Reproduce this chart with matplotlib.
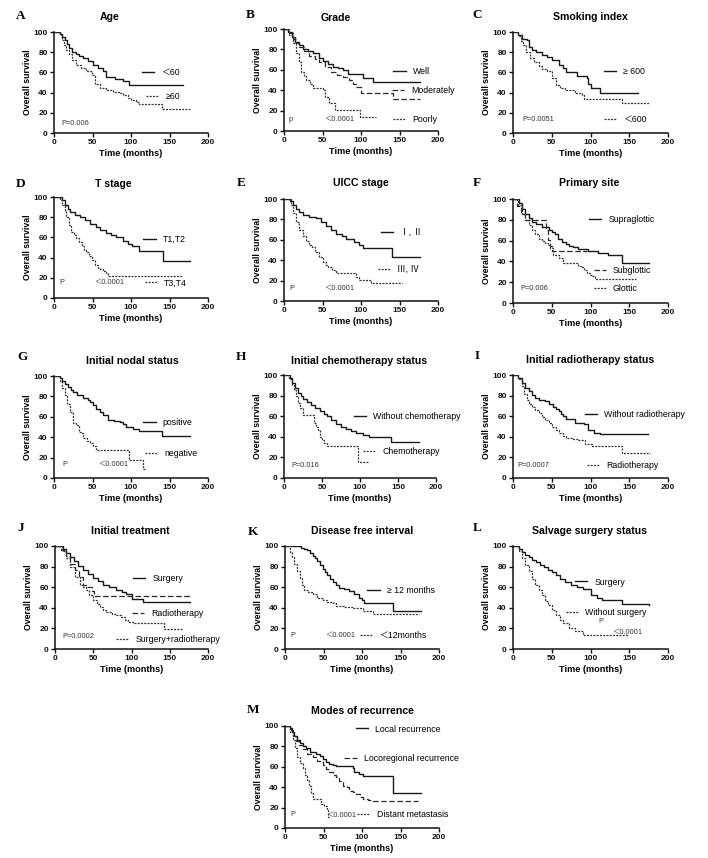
import matplotlib
matplotlib.use("Agg")
import matplotlib.pyplot as plt

plt.rcParams['font.family'] = ['Liberation Sans', 'Noto Sans CJK SC', 'DejaVu Sans']

# ---------------- data (months / % survival) ----------------
a_lt60_t = [0, 8, 11, 14, 17, 20, 23, 28, 33, 38, 44, 51, 57, 64, 68, 79, 90, 98, 167]
a_lt60_s = [100, 98, 95, 92, 88, 84, 80, 78, 76, 74, 71, 67, 64, 61, 55, 53, 51, 48, 48]
a_ge60_t = [0, 8, 10, 13, 16, 20, 24, 29, 35, 42, 49, 53, 60, 68, 77, 84, 90, 96, 100, 106, 111, 140, 177]
a_ge60_s = [100, 97, 92, 87, 82, 78, 72, 67, 64, 61, 57, 49, 45, 43, 41, 40, 38, 35, 33, 31, 29, 24, 24]

b_well_t = [0, 5, 10, 14, 19, 25, 31, 38, 45, 51, 57, 64, 70, 77, 83, 103, 115, 176]
b_well_s = [100, 97, 92, 87, 84, 80, 78, 76, 72, 69, 66, 63, 62, 60, 56, 52, 48, 48]
b_mod_t = [0, 7, 12, 16, 20, 26, 33, 40, 46, 53, 61, 69, 77, 84, 90, 94, 100, 141, 177]
b_mod_s = [100, 96, 90, 86, 82, 78, 74, 71, 68, 63, 58, 55, 53, 50, 46, 43, 37, 31, 31]
b_poor_t = [0, 7, 12, 16, 19, 22, 26, 29, 34, 38, 51, 53, 58, 66, 99, 120]
b_poor_s = [100, 94, 86, 76, 68, 58, 54, 50, 46, 42, 40, 33, 27, 21, 14, 14]

c_ge600_t = [0, 7, 11, 18, 20, 24, 30, 37, 44, 50, 59, 65, 69, 82, 95, 97, 101, 112, 161]
c_ge600_s = [100, 97, 93, 92, 85, 82, 80, 77, 75, 72, 67, 64, 60, 56, 54, 49, 45, 40, 40]
c_lt600_t = [0, 7, 10, 13, 17, 22, 27, 33, 38, 44, 50, 56, 61, 67, 80, 89, 92, 140, 177]
c_lt600_s = [100, 96, 91, 87, 80, 74, 70, 66, 63, 61, 54, 48, 45, 43, 40, 38, 34, 30, 30]

d_t12_t = [0, 10, 14, 18, 21, 27, 34, 40, 47, 54, 60, 68, 74, 81, 90, 96, 101, 111, 141, 177]
d_t12_s = [100, 97, 92, 88, 85, 82, 80, 77, 73, 70, 67, 64, 62, 60, 56, 53, 51, 47, 37, 37]
d_t34_t = [0, 8, 11, 14, 16, 19, 22, 26, 29, 33, 36, 39, 42, 46, 49, 53, 57, 60, 64, 68, 70, 167]
d_t34_s = [100, 97, 92, 86, 80, 72, 65, 62, 59, 55, 51, 48, 46, 42, 38, 33, 30, 29, 27, 25, 22, 22]

e_12_t = [0, 8, 12, 16, 20, 25, 33, 42, 48, 55, 61, 68, 75, 81, 91, 98, 102, 140, 177]
e_12_s = [100, 98, 94, 90, 87, 84, 82, 81, 77, 74, 70, 66, 64, 61, 58, 55, 52, 43, 43]
e_34_t = [0, 9, 12, 16, 20, 25, 29, 33, 37, 40, 45, 50, 54, 57, 62, 68, 94, 98, 113, 153]
e_34_s = [100, 94, 86, 77, 70, 64, 59, 55, 53, 48, 43, 38, 35, 33, 30, 27, 24, 21, 18, 18]

f_supra_t = [0, 8, 12, 16, 20, 24, 30, 38, 46, 50, 54, 58, 63, 68, 72, 78, 84, 97, 110, 123, 141, 176]
f_supra_s = [100, 96, 90, 86, 82, 78, 76, 73, 70, 68, 66, 62, 59, 57, 55, 54, 52, 50, 48, 46, 38, 38]
f_sub_t = [0, 5, 10, 16, 43, 45, 48, 50, 95]
f_sub_s = [100, 93, 86, 80, 70, 61, 55, 50, 50]
f_glot_t = [0, 7, 12, 16, 20, 24, 28, 33, 37, 41, 45, 48, 52, 59, 65, 84, 88, 91, 95, 99, 102, 106, 159]
f_glot_s = [100, 94, 86, 80, 75, 70, 66, 62, 60, 58, 56, 53, 46, 43, 38, 36, 35, 32, 29, 27, 26, 23, 23]

g_pos_t = [0, 8, 11, 14, 18, 22, 25, 30, 38, 44, 47, 51, 55, 60, 64, 70, 78, 86, 90, 94, 103, 111, 140, 177]
g_pos_s = [100, 98, 95, 92, 89, 86, 84, 81, 78, 76, 75, 72, 68, 65, 62, 57, 56, 55, 53, 50, 48, 46, 41, 41]
g_neg_t = [0, 8, 11, 14, 17, 21, 25, 28, 32, 35, 38, 43, 47, 51, 55, 98, 115, 120]
g_neg_s = [100, 94, 88, 81, 73, 65, 54, 52, 45, 44, 39, 36, 34, 31, 27, 18, 9, 9]

h_wo_t = [0, 8, 11, 14, 18, 22, 25, 30, 36, 41, 47, 52, 56, 62, 69, 75, 82, 88, 95, 104, 112, 141, 177]
h_wo_s = [100, 97, 92, 87, 83, 80, 77, 74, 71, 68, 65, 62, 60, 56, 52, 50, 48, 46, 44, 42, 40, 35, 35]
h_chemo_t = [0, 7, 10, 13, 16, 18, 21, 25, 39, 42, 45, 47, 50, 53, 56, 98, 110]
h_chemo_s = [100, 96, 90, 85, 80, 73, 68, 61, 53, 50, 47, 40, 37, 34, 31, 16, 16]

i_wo_t = [0, 7, 11, 16, 20, 24, 28, 33, 41, 46, 52, 56, 59, 62, 65, 69, 80, 91, 97, 105, 112, 174]
i_wo_s = [100, 97, 92, 87, 84, 81, 78, 76, 75, 72, 69, 67, 65, 62, 60, 57, 53, 52, 47, 44, 43, 43]
i_radio_t = [0, 7, 11, 14, 18, 21, 24, 28, 33, 37, 41, 46, 50, 55, 59, 64, 69, 76, 84, 93, 102, 141, 177]
i_radio_s = [100, 96, 89, 82, 76, 72, 69, 66, 63, 59, 56, 53, 50, 47, 44, 41, 39, 38, 37, 33, 31, 24, 24]

j_surg_t = [0, 10, 15, 20, 25, 30, 37, 43, 50, 56, 63, 70, 80, 88, 93, 100, 115, 176]
j_surg_s = [100, 97, 93, 89, 85, 81, 77, 73, 69, 66, 62, 60, 57, 55, 53, 49, 46, 46]
j_radio_t = [0, 8, 14, 20, 26, 32, 37, 42, 48, 51, 178]
j_radio_s = [100, 96, 90, 83, 77, 70, 62, 60, 56, 51, 51]
j_both_t = [0, 9, 14, 20, 26, 33, 37, 41, 45, 50, 55, 59, 63, 67, 74, 80, 86, 91, 96, 102, 142, 167]
j_both_s = [100, 95, 88, 80, 70, 62, 60, 57, 52, 48, 44, 41, 38, 36, 34, 33, 31, 28, 26, 25, 19, 19]

k_ge12_t = [0, 21, 25, 29, 33, 36, 39, 42, 46, 49, 52, 55, 58, 62, 66, 70, 76, 83, 90, 96, 100, 103, 140, 176]
k_ge12_s = [100, 98, 97, 96, 93, 90, 88, 85, 82, 78, 75, 72, 68, 65, 62, 59, 58, 56, 53, 50, 48, 45, 37, 37]
k_lt12_t = [0, 6, 9, 12, 15, 19, 22, 25, 30, 36, 42, 49, 55, 62, 66, 76, 88, 101, 114, 174]
k_lt12_s = [100, 94, 89, 83, 76, 69, 62, 57, 55, 53, 50, 48, 46, 45, 42, 41, 40, 37, 34, 34]

l_surg_t = [0, 8, 12, 16, 20, 25, 30, 35, 40, 45, 50, 55, 60, 67, 75, 82, 90, 100, 108, 115, 140, 176]
l_surg_s = [100, 97, 94, 91, 89, 86, 84, 82, 80, 77, 75, 72, 68, 65, 62, 60, 58, 52, 50, 48, 44, 43]
l_wo_t = [0, 8, 12, 16, 20, 24, 28, 33, 37, 41, 45, 50, 55, 60, 65, 72, 80, 90, 148]
l_wo_s = [100, 95, 88, 82, 76, 68, 62, 57, 52, 47, 43, 38, 33, 28, 25, 20, 17, 14, 14]

m_local_t = [0, 6, 9, 12, 16, 19, 23, 27, 33, 40, 45, 49, 53, 57, 62, 66, 88, 90, 96, 101, 140, 176]
m_local_s = [100, 98, 94, 90, 86, 83, 80, 78, 75, 73, 71, 68, 65, 63, 62, 61, 59, 55, 53, 51, 34, 34]
m_loco_t = [0, 8, 11, 14, 18, 23, 29, 36, 42, 49, 53, 57, 62, 66, 70, 75, 80, 83, 88, 92, 97, 101, 108, 114, 173]
m_loco_s = [100, 96, 90, 85, 81, 77, 73, 70, 66, 62, 58, 55, 52, 50, 46, 41, 40, 36, 35, 33, 30, 28, 27, 26, 26]
m_dist_t = [0, 6, 10, 13, 16, 19, 23, 26, 29, 31, 34, 36, 47, 50, 54, 56, 58]
m_dist_s = [100, 94, 86, 78, 70, 64, 59, 52, 47, 41, 34, 28, 24, 22, 18, 11, 11]

x_ticks = [0, 50, 100, 150, 200]
y_ticks = [0, 20, 40, 60, 80, 100]

# ---------------- styling ----------------
W, H = 708, 858
fig = plt.figure(figsize=(W / 100, H / 100), dpi=100)

STY = {
    'solid': dict(ls='-', color='#1a1a1a', lw=1.0),
    'dash': dict(ls=(0, (4.5, 2.0)), color='#2a2a2a', lw=0.9),
    'dot': dict(ls=(0, (1.6, 1.0)), color='#333333', lw=0.9),
}


def px_rect(x0, x200, y100, y0):
    return [x0 / W, 1 - y0 / H, (x200 - x0) / W, (y0 - y100) / H]


panels = [
    dict(letter='A', lxy=(21, 16), title='Age', txy=(110, 17), rect=(54, 208, 32, 133),
         curves=[(a_lt60_t, a_lt60_s, 'solid', '＜60', (0.57, 0.60)),
                 (a_ge60_t, a_ge60_s, 'dot', '≥60', (0.60, 0.36))],
         texts=[('P=0.006', 0.045, 0.09)]),
    dict(letter='B', lxy=(250, 15), title='Grade', txy=(336, 18), rect=(284, 438, 29, 131),
         curves=[(b_well_t, b_well_s, 'solid', 'Well', (0.71, 0.58)),
                 (b_mod_t, b_mod_s, 'dash', 'Moderately', (0.70, 0.40)),
                 (b_poor_t, b_poor_s, 'dot', 'Poorly', (0.71, 0.11))],
         texts=[('p', 0.03, 0.11), ('＜0.0001', 0.26, 0.11)]),
    dict(letter='C', lxy=(477, 15), title='Smoking index', txy=(590, 17), rect=(513, 668, 32, 133),
         curves=[(c_ge600_t, c_ge600_s, 'solid', '≥ 600', (0.585, 0.61)),
                 (c_lt600_t, c_lt600_s, 'dot', '＜600', (0.585, 0.13))],
         texts=[('P=0.0051', 0.06, 0.13)]),
    dict(letter='D', lxy=(21, 184), title='T stage', txy=(113, 184), rect=(54, 208, 197, 298),
         curves=[(d_t12_t, d_t12_s, 'solid', 'T1,T2', (0.58, 0.58)),
                 (d_t34_t, d_t34_s, 'dot', 'T3,T4', (0.59, 0.15))],
         texts=[('P', 0.035, 0.15), ('＜0.0001', 0.26, 0.15)]),
    dict(letter='E', lxy=(241, 183), title='UICC stage', txy=(361, 183), rect=(284, 438, 199, 301),
         curves=[(e_12_t, e_12_s, 'solid', 'Ⅰ, Ⅱ', (0.63, 0.67)),
                 (e_34_t, e_34_s, 'dot', 'Ⅲ, Ⅳ', (0.61, 0.31))],
         texts=[('P', 0.035, 0.12), ('＜0.0001', 0.26, 0.12)]),
    dict(letter='F', lxy=(477, 183), title='Primary site', txy=(589, 183), rect=(513, 668, 199, 303),
         curves=[(f_supra_t, f_supra_s, 'solid', 'Supraglottic', (0.49, 0.80)),
                 (f_sub_t, f_sub_s, 'dash', 'Subglottic', (0.52, 0.31)),
                 (f_glot_t, f_glot_s, 'dot', 'Glottic', (0.52, 0.14))],
         texts=[('P=0.006', 0.05, 0.14)]),
    dict(letter='G', lxy=(22, 357), title='Initial nodal status', txy=(132, 361), rect=(54, 208, 376, 478),
         curves=[(g_pos_t, g_pos_s, 'solid', 'positive', (0.58, 0.54)),
                 (g_neg_t, g_neg_s, 'dot', 'negative', (0.59, 0.24))],
         texts=[('P', 0.055, 0.13), ('＜0.0001', 0.29, 0.13)]),
    dict(letter='H', lxy=(241, 357), title='Initial chemotherapy status', txy=(359, 361), rect=(284, 436, 375, 478),
         curves=[(h_wo_t, h_wo_s, 'solid', 'Without chemotherapy', (0.46, 0.60)),
                 (h_chemo_t, h_chemo_s, 'dot', 'Chemotherapy', (0.52, 0.26))],
         texts=[('P=0.016', 0.05, 0.12)]),
    dict(letter='I', lxy=(477, 356), title='Initial radiotherapy status', txy=(590, 360), rect=(513, 668, 375, 478),
         curves=[(i_wo_t, i_wo_s, 'solid', 'Without radiotherapy', (0.465, 0.62)),
                 (i_radio_t, i_radio_s, 'dot', 'Radiotherapy', (0.48, 0.12))],
         texts=[('P=0.0007', 0.03, 0.12)]),
    dict(letter='J', lxy=(21, 528), title='Initial treatment', txy=(130, 531), rect=(55, 208, 546, 649),
         curves=[(j_surg_t, j_surg_s, 'solid', 'Surgery', (0.51, 0.68)),
                 (j_radio_t, j_radio_s, 'dash', 'Radiotherapy', (0.50, 0.34)),
                 (j_both_t, j_both_s, 'dot', 'Surgery+radiotherapy', (0.40, 0.09))],
         texts=[('P=0.0002', 0.045, 0.12)]),
    dict(letter='K', lxy=(253, 532), title='Disease free interval', txy=(362, 531), rect=(285, 439, 546, 649),
         curves=[(k_ge12_t, k_ge12_s, 'solid', '≥ 12 months', (0.535, 0.57)),
                 (k_lt12_t, k_lt12_s, 'dot', '＜12months', (0.485, 0.13))],
         texts=[('P', 0.035, 0.13), ('＜0.0001', 0.26, 0.13)]),
    dict(letter='L', lxy=(477, 528), title='Salvage surgery status', txy=(590, 531), rect=(513, 668, 546, 649),
         curves=[(l_surg_t, l_surg_s, 'solid', 'Surgery', (0.40, 0.65)),
                 (l_wo_t, l_wo_s, 'dot', 'Without surgery', (0.34, 0.35))],
         texts=[('P', 0.55, 0.27), ('＜0.0001', 0.64, 0.165)]),
    dict(letter='M', lxy=(253, 710), title='Modes of recurrence', txy=(362, 711), rect=(285, 439, 726, 828),
         curves=[(m_local_t, m_local_s, 'solid', 'Local recurrence', (0.46, 0.97)),
                 (m_loco_t, m_loco_s, 'dash', 'Locoregional recurrence', (0.385, 0.68)),
                 (m_dist_t, m_dist_s, 'dot', 'Distant metastasis', (0.47, 0.13))],
         texts=[('P', 0.035, 0.13), ('＜0.0001', 0.265, 0.12)]),
]

for p in panels:
    ax = fig.add_axes(px_rect(*p['rect']))
    ax.set_xlim(0, 200)
    ax.set_ylim(0, 100)
    ax.set_xticks(x_ticks)
    ax.set_yticks(y_ticks)
    for side in ('top', 'right'):
        ax.spines[side].set_visible(False)
    for side in ('left', 'bottom'):
        ax.spines[side].set_linewidth(1.1)
        ax.spines[side].set_color('#111111')
    ax.tick_params(direction='out', length=3, width=1.0, pad=1.5, labelsize=6.0, colors='#111111')
    for lab in ax.get_xticklabels() + ax.get_yticklabels():
        lab.set_fontweight('bold')
    ax.set_xlabel('Time (months)', fontsize=6.6, fontweight='bold', labelpad=2)
    ax.set_ylabel('Overall survival', fontsize=6.3, fontweight='bold', labelpad=0.8)

    legs = []
    for (t, s, sty, lab, pos) in p['curves']:
        ln, = ax.step(t, s, where='post', **STY[sty])
        leg = ax.legend([ln], [lab], loc='center left', bbox_to_anchor=pos, frameon=False,
                        fontsize=6.3, handlelength=1.4, handletextpad=0.8, borderpad=0,
                        borderaxespad=0)
        leg.set_clip_on(False)
        legs.append(leg)
    for leg in legs[:-1]:
        ax.add_artist(leg)

    for (txt, x, y) in p['texts']:
        ax.text(x, y, txt, transform=ax.transAxes, fontsize=5.3, color='#333333',
                ha='left', va='center')

    fig.text(p['lxy'][0] / W, 1 - p['lxy'][1] / H, p['letter'], fontsize=9.5, fontweight='bold',
             family=['Liberation Serif', 'DejaVu Serif'], ha='center', va='center')
    fig.text(p['txy'][0] / W, 1 - p['txy'][1] / H, p['title'], fontsize=7.6, fontweight='bold',
             ha='center', va='center')

fig.savefig('out.png', dpi=100)
